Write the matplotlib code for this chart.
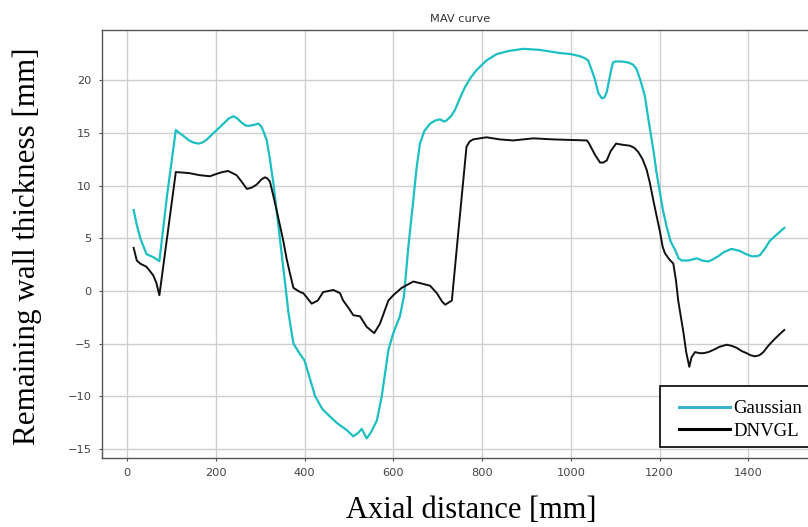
import matplotlib
matplotlib.use("Agg")
import matplotlib.pyplot as plt
from matplotlib.lines import Line2D
from matplotlib.patches import Rectangle

# ---- data ----
gauss_x = [15, 22, 30, 44, 60, 73, 90, 110, 115, 125, 140, 150, 161, 170, 180, 190, 200, 210,
           220, 230, 240, 248, 258, 268, 277, 288, 296, 303, 308, 315, 322, 330, 345, 364, 375,
           390, 400, 412, 424, 440, 457, 472, 485, 495, 510, 520, 529, 540, 550, 563, 574, 589,
           600, 615, 624, 634, 645, 652, 660, 670, 683, 695, 705, 715, 720, 730, 739, 750, 762,
           775, 788, 810, 833, 860, 893, 930, 976, 1000, 1021, 1032, 1039, 1047, 1055, 1062,
           1070, 1076, 1081, 1090, 1095, 1100, 1115, 1130, 1140, 1148, 1157, 1167, 1176, 1186,
           1193, 1201, 1208, 1216, 1225, 1235, 1243, 1250, 1265, 1284, 1296, 1310, 1320, 1332,
           1345, 1362, 1372, 1381, 1395, 1408, 1418, 1426, 1437, 1449, 1465, 1481]
gauss_y = [7.7, 6.3, 5.0, 3.5, 3.2, 2.85, 9.0, 15.3, 15.1, 14.8, 14.3, 14.1, 14.0, 14.1, 14.4,
           14.8, 15.2, 15.6, 16.0, 16.4, 16.6, 16.4, 16.0, 15.7, 15.7, 15.8, 15.9, 15.6, 15.1,
           14.3, 12.5, 10.2, 4.8, -2.1, -5.0, -6.0, -6.6, -8.3, -10.0, -11.2, -11.9, -12.5,
           -12.9, -13.2, -13.8, -13.5, -13.1, -14.0, -13.4, -12.3, -10.0, -5.6, -4.0, -2.4,
           -0.5, 4.2, 8.6, 11.5, 14.0, 15.2, 15.9, 16.2, 16.3, 16.1, 16.2, 16.6, 17.2, 18.3,
           19.4, 20.3, 21.0, 21.9, 22.5, 22.8, 23.0, 22.9, 22.6, 22.5, 22.3, 22.1, 21.9, 21.0,
           20.0, 18.8, 18.3, 18.4, 18.9, 20.8, 21.7, 21.8, 21.8, 21.7, 21.5, 21.1, 20.0, 18.5,
           16.0, 13.4, 11.3, 9.3, 7.6, 6.1, 4.7, 3.9, 3.1, 2.9, 2.9, 3.1, 2.9, 2.8, 3.0, 3.3,
           3.7, 4.0, 3.9, 3.8, 3.5, 3.3, 3.3, 3.4, 4.0, 4.8, 5.4, 6.0]

dnv_x = [15, 22, 30, 44, 59, 66, 73, 110, 140, 164, 187, 200, 215, 228, 247, 258, 270, 280,
         292, 303, 311, 316, 322, 330, 337, 352, 360, 367, 375, 390, 397, 405, 416, 430, 442,
         465, 480, 487, 499, 510, 525, 540, 557, 570, 589, 600, 619, 645, 665, 683, 698, 710,
         717, 732, 747, 765, 772, 780, 810, 840, 870, 916, 960, 1036, 1040, 1055, 1066, 1073,
         1081, 1090, 1102, 1115, 1133, 1143, 1152, 1162, 1171, 1178, 1186, 1201, 1207, 1212,
         1222, 1231, 1237, 1242, 1254, 1260, 1267, 1272, 1280, 1290, 1299, 1310, 1321, 1335,
         1351, 1362, 1374, 1385, 1396, 1405, 1415, 1425, 1434, 1445, 1456, 1468, 1481]
dnv_y = [4.1, 2.9, 2.6, 2.3, 1.5, 0.8, -0.4, 11.3, 11.2, 11.0, 10.9, 11.1, 11.3, 11.4, 11.0,
         10.4, 9.7, 9.8, 10.1, 10.6, 10.8, 10.7, 10.4, 9.0, 7.7, 4.8, 3.0, 1.7, 0.3, -0.1,
         -0.2, -0.6, -1.2, -0.9, -0.1, 0.1, -0.2, -0.9, -1.6, -2.3, -2.4, -3.4, -4.0, -3.1,
         -0.9, -0.4, 0.3, 0.9, 0.7, 0.5, -0.2, -1.0, -1.3, -0.9, 5.8, 13.7, 14.2, 14.4, 14.6,
         14.4, 14.3, 14.5, 14.4, 14.3, 14.1, 12.9, 12.2, 12.2, 12.4, 13.3, 14.0, 13.9, 13.8,
         13.6, 13.2, 12.5, 11.5, 10.3, 8.6, 5.6, 4.2, 3.6, 3.0, 2.6, 1.0, -0.9, -4.0, -5.8,
         -7.2, -6.3, -5.8, -5.9, -5.9, -5.8, -5.6, -5.3, -5.1, -5.2, -5.4, -5.7, -5.9, -6.1,
         -6.2, -6.1, -5.8, -5.2, -4.7, -4.2, -3.7]

x_ticks = [0, 200, 400, 600, 800, 1000, 1200, 1400]
y_ticks = [-15, -10, -5, 0, 5, 10, 15, 20]
series_labels = ["Gaussian", "DNVGL"]
title = "MAV curve"
x_label = "Axial distance [mm]"
y_label = "Remaining wall thickness [mm]"

W, H = 808, 527
fig = plt.figure(figsize=(W / 100, H / 100), dpi=100)
ax = fig.add_axes([101.7 / W, (H - 457.7) / H, (818 - 101.7) / W, (457.7 - 30) / H])

ax.plot(gauss_x, gauss_y, color="#1cbfc2", lw=1.6)
ax.plot(dnv_x, dnv_y, color="#111111", lw=1.4)

ax.set_xlim(-57, 1557)
ax.set_ylim(-15.83, 24.79)
ax.set_xticks(x_ticks)
ax.set_yticks(y_ticks)
ax.grid(True, color="#cfcfcf", lw=1.0)
ax.set_axisbelow(True)
for s in ["left", "bottom", "top", "right"]:
    ax.spines[s].set_color("#555555")
    ax.spines[s].set_linewidth(1.0)
ax.tick_params(axis="both", length=2.4, width=0.8, color="#555555", pad=4.8,
               labelsize=8.2, labelcolor="#444444")
ax.set_title(title, fontsize=8.2, color="#333333", pad=6)

serif = ["Liberation Serif", "DejaVu Serif"]
fig.text(471 / W, 1 - 511 / H, x_label, fontsize=22, family=serif,
         ha="center", va="center")
fig.text(27 / W, 1 - 246.7 / H, y_label, fontsize=22.3, family=serif,
         ha="center", va="center", rotation=90)

# legend box (overlaid)
fig.patches.append(Rectangle((660 / W, 1 - 447 / H), 170 / W, 61 / H,
                             transform=fig.transFigure, facecolor="white",
                             edgecolor="black", lw=1.2, zorder=5))
handles = [Line2D([], [], color="#3ab4cc", lw=2.2),
           Line2D([], [], color="black", lw=2.2)]
leg = fig.legend(handles, series_labels, loc="upper left",
                 bbox_to_anchor=(679 / W, 1 - 400 / H), frameon=False,
                 prop={"family": serif, "size": 13.5}, handlelength=2.7,
                 handletextpad=0.2, borderpad=0, borderaxespad=0, labelspacing=0.28)
leg.set_zorder(6)

fig.savefig("out.png", dpi=100)
